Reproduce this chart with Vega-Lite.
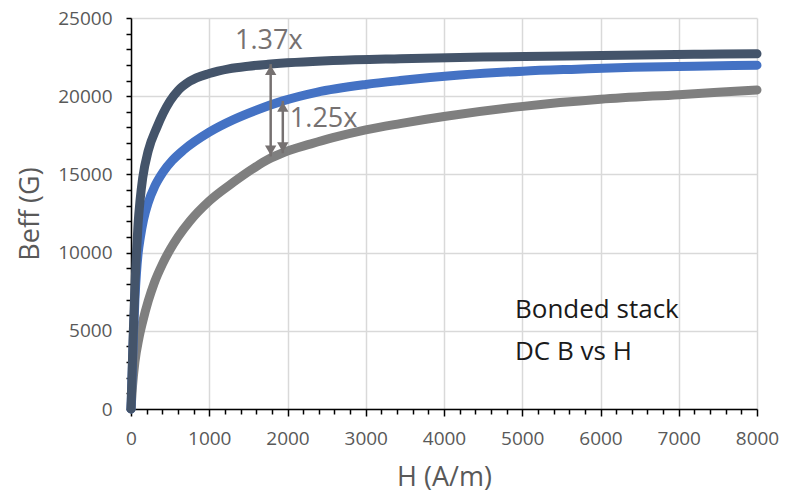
{
  "$schema": "https://vega.github.io/schema/vega-lite/v6.json",
  "width": 626,
  "height": 391,
  "autosize": {"type": "none"},
  "padding": {"left": 131, "top": 18, "right": 28, "bottom": 89},
  "background": "white",
  "config": {"view": {"stroke": null}, "font": "Open Sans"},
  "datasets": {
    "curves": [
      {"s": "gray", "h": 0, "b": 0}, {"s": "gray", "h": 20, "b": 1500}, {"s": "gray", "h": 50, "b": 3000}, {"s": "gray", "h": 100, "b": 4500},
      {"s": "gray", "h": 150, "b": 5600}, {"s": "gray", "h": 220, "b": 6900}, {"s": "gray", "h": 300, "b": 8100}, {"s": "gray", "h": 400, "b": 9250},
      {"s": "gray", "h": 500, "b": 10200}, {"s": "gray", "h": 600, "b": 11000}, {"s": "gray", "h": 750, "b": 12000}, {"s": "gray", "h": 1000, "b": 13300},
      {"s": "gray", "h": 1310, "b": 14500}, {"s": "gray", "h": 1585, "b": 15450}, {"s": "gray", "h": 1750, "b": 15950}, {"s": "gray", "h": 1950, "b": 16400},
      {"s": "gray", "h": 2300, "b": 16950}, {"s": "gray", "h": 2580, "b": 17350}, {"s": "gray", "h": 3000, "b": 17850}, {"s": "gray", "h": 3440, "b": 18250},
      {"s": "gray", "h": 4000, "b": 18700}, {"s": "gray", "h": 5010, "b": 19350},
      {"s": "gray", "h": 6000, "b": 19800}, {"s": "gray", "h": 7000, "b": 20100}, {"s": "gray", "h": 8000, "b": 20400},
      {"s": "blue", "h": 0, "b": 0}, {"s": "blue", "h": 15, "b": 2300}, {"s": "blue", "h": 30, "b": 4600}, {"s": "blue", "h": 50, "b": 7000},
      {"s": "blue", "h": 70, "b": 8700}, {"s": "blue", "h": 90, "b": 9900}, {"s": "blue", "h": 120, "b": 11000}, {"s": "blue", "h": 160, "b": 12100},
      {"s": "blue", "h": 220, "b": 13200}, {"s": "blue", "h": 300, "b": 14200}, {"s": "blue", "h": 410, "b": 15150}, {"s": "blue", "h": 530, "b": 15900},
      {"s": "blue", "h": 670, "b": 16550},
      {"s": "blue", "h": 1000, "b": 17700}, {"s": "blue", "h": 1310, "b": 18500}, {"s": "blue", "h": 1600, "b": 19100}, {"s": "blue", "h": 1940, "b": 19700},
      {"s": "blue", "h": 2370, "b": 20250}, {"s": "blue", "h": 3000, "b": 20750}, {"s": "blue", "h": 3440, "b": 21000}, {"s": "blue", "h": 4200, "b": 21350},
      {"s": "blue", "h": 5010, "b": 21600}, {"s": "blue", "h": 5700, "b": 21730}, {"s": "blue", "h": 6420, "b": 21850}, {"s": "blue", "h": 7200, "b": 21920},
      {"s": "blue", "h": 8000, "b": 21980},
      {"s": "dark", "h": 0, "b": 0}, {"s": "dark", "h": 15, "b": 2500}, {"s": "dark", "h": 30, "b": 5000}, {"s": "dark", "h": 50, "b": 7800},
      {"s": "dark", "h": 70, "b": 10000}, {"s": "dark", "h": 90, "b": 11800}, {"s": "dark", "h": 115, "b": 13300}, {"s": "dark", "h": 150, "b": 14800},
      {"s": "dark", "h": 220, "b": 16500}, {"s": "dark", "h": 330, "b": 18000}, {"s": "dark", "h": 500, "b": 19700}, {"s": "dark", "h": 600, "b": 20350},
      {"s": "dark", "h": 750, "b": 20950},
      {"s": "dark", "h": 1000, "b": 21450}, {"s": "dark", "h": 1250, "b": 21750}, {"s": "dark", "h": 1500, "b": 21920}, {"s": "dark", "h": 1750, "b": 22040}, {"s": "dark", "h": 2580, "b": 22280},
      {"s": "dark", "h": 3440, "b": 22400}, {"s": "dark", "h": 4500, "b": 22500}, {"s": "dark", "h": 5570, "b": 22570}, {"s": "dark", "h": 6500, "b": 22630},
      {"s": "dark", "h": 7300, "b": 22680}, {"s": "dark", "h": 8000, "b": 22710}
    ],
    "arrows": [
      {"h": 1785, "b": 16150, "b2": 22050},
      {"h": 1940, "b": 16350, "b2": 19700}
    ],
    "ratios": [
      {"h": 1330, "b": 23560, "t": "1.37x"},
      {"h": 2030, "b": 18570, "t": "1.25x"}
    ],
    "notes": [
      {"h": 4907, "b": 6300, "t": "Bonded stack"},
      {"h": 4907, "b": 3620, "t": "DC B vs H"}
    ]
  },
  "encoding": {
    "x": {
      "field": "h", "type": "quantitative",
      "scale": {"domain": [0, 8000], "nice": false},
      "axis": {
        "title": "H (A/m)",
        "values": [0,200,400,600,800,1000,1200,1400,1600,1800,2000,2200,2400,2600,2800,3000,3200,3400,3600,3800,4000,4200,4400,4600,4800,5000,5200,5400,5600,5800,6000,6200,6400,6600,6800,7000,7200,7400,7600,7800,8000],
        "format": "d",
        "labelExpr": "datum.value % 1000 === 0 ? datum.label : ''",
        "labelOverlap": false,
        "labelFlush": false,
        "labelFontSize": 19,
        "labelColor": "#595959",
        "labelPadding": 13,
        "tickColor": "black",
        "tickWidth": 1.5,
        "tickSize": {"condition": {"test": "datum.value % 1000 === 0", "value": 7}, "value": 5},
        "domainColor": "black",
        "domainWidth": 1.5,
        "grid": true,
        "gridColor": "#d9d9d9",
        "gridWidth": 1.5,
        "gridOpacity": {"condition": {"test": "datum.value % 1000 === 0", "value": 1}, "value": 0},
        "titleFontSize": 27,
        "titleFontWeight": "normal",
        "titleColor": "#595959",
        "titlePadding": 16
      }
    },
    "y": {
      "field": "b", "type": "quantitative",
      "scale": {"domain": [0, 25000], "nice": false},
      "axis": {
        "title": "Beff (G)",
        "values": [0,1000,2000,3000,4000,5000,6000,7000,8000,9000,10000,11000,12000,13000,14000,15000,16000,17000,18000,19000,20000,21000,22000,23000,24000,25000],
        "format": "d",
        "labelExpr": "datum.value % 5000 === 0 ? datum.label : ''",
        "labelOverlap": false,
        "labelFlush": false,
        "labelFontSize": 19,
        "labelColor": "#595959",
        "labelPadding": 14,
        "tickColor": "black",
        "tickWidth": 1.5,
        "tickSize": 5,
        "domainColor": "black",
        "domainWidth": 1.5,
        "grid": true,
        "gridColor": "#d9d9d9",
        "gridWidth": 1.5,
        "gridOpacity": {"condition": {"test": "datum.value % 5000 === 0", "value": 1}, "value": 0},
        "titleFontSize": 27,
        "titleFontWeight": "normal",
        "titleColor": "#595959",
        "titlePadding": 13
      }
    }
  },
  "layer": [
    {
      "data": {"name": "curves"},
      "transform": [{"filter": "datum.s === 'gray'"}],
      "mark": {"type": "line", "color": "#7f7f7f", "strokeWidth": 9, "strokeCap": "round", "strokeJoin": "round", "interpolate": "monotone"},
      "encoding": {}
    },
    {
      "data": {"name": "curves"},
      "transform": [{"filter": "datum.s === 'blue'"}],
      "mark": {"type": "line", "color": "#4472c4", "strokeWidth": 9, "strokeCap": "round", "strokeJoin": "round", "interpolate": "monotone"},
      "encoding": {}
    },
    {
      "data": {"name": "curves"},
      "transform": [{"filter": "datum.s === 'dark'"}],
      "mark": {"type": "line", "color": "#44546a", "strokeWidth": 9, "strokeCap": "round", "strokeJoin": "round", "interpolate": "monotone"},
      "encoding": {}
    },
    {
      "data": {"name": "arrows"},
      "mark": {"type": "rule", "color": "#767171", "strokeWidth": 2.5},
      "encoding": {"y2": {"field": "b2"}}
    },
    {
      "data": {"name": "arrows"},
      "mark": {"type": "point", "shape": "triangle-up", "filled": true, "color": "#767171", "opacity": 1, "size": 130, "yOffset": 6},
      "encoding": {"y": {"field": "b2", "type": "quantitative"}}
    },
    {
      "data": {"name": "arrows"},
      "mark": {"type": "point", "shape": "triangle-down", "filled": true, "color": "#767171", "opacity": 1, "size": 130, "yOffset": -6},
      "encoding": {}
    },
    {
      "data": {"name": "ratios"},
      "mark": {"type": "text", "align": "left", "baseline": "middle", "fontSize": 27, "color": "#767171", "font": "Open Sans"},
      "encoding": {"text": {"field": "t"}}
    },
    {
      "data": {"name": "notes"},
      "mark": {"type": "text", "align": "left", "baseline": "middle", "fontSize": 26, "color": "#1a1a1a", "font": "Open Sans"},
      "encoding": {"text": {"field": "t"}}
    }
  ]
}
